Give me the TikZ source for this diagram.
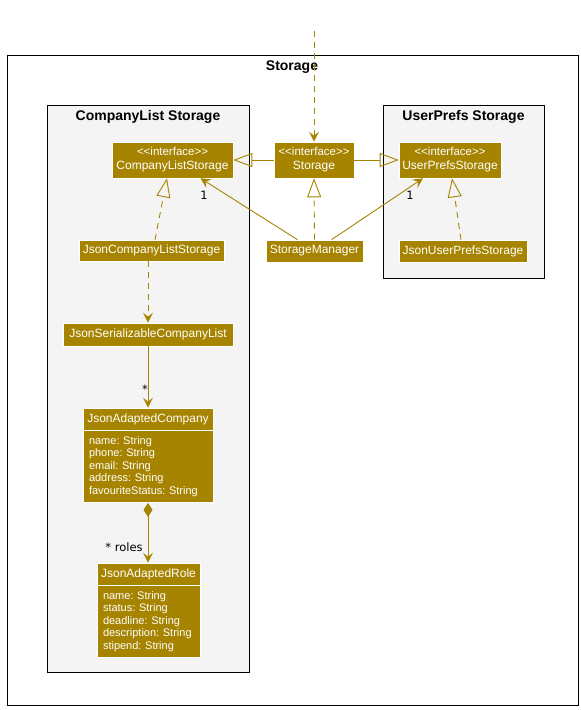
\documentclass[tikz,border=0pt]{standalone}
\usepackage{fontspec}
\setmainfont{Liberation Sans}
\newfontfamily\lblfont{DejaVu Sans}
\usetikzlibrary{arrows.meta}
\definecolor{gold}{RGB}{166,132,0}
\definecolor{pkggray}{RGB}{243,244,243}
\newcommand{\stereo}{{\fontsize{11.5}{14}\selectfont<\kern0pt<interface>\kern0pt>}}
\frenchspacing
\begin{document}
\frenchspacing
\begin{tikzpicture}[x=1pt,y=-1pt,
  frame/.style={draw=black, line width=1pt, inner sep=0pt},
  pkgbox/.style={draw=black, line width=1pt, fill=pkggray, inner sep=0pt},
  ptitle/.style={font=\bfseries\fontsize{14}{16}\selectfont, inner sep=0pt},
  cls/.style={draw=white, line width=0.6pt, fill=gold, text=white, inner sep=0pt, align=center, font=\fontsize{12}{14}\selectfont},
  attrs/.style={draw=white, line width=0.6pt, fill=gold, text=white, inner ysep=0pt, inner xsep=6pt, align=left, font=\fontsize{11}{12.5}\selectfont, anchor=north},
  link/.style={draw=gold, line width=0.9pt},
  dlink/.style={link, dash pattern=on 6pt off 5pt},
  arr/.style={-{Stealth[length=10pt,width=10pt,inset=4pt]}},
  ext/.style={-{Triangle[open,length=19pt,width=14pt]}},
  lbl/.style={font=\lblfont\fontsize{11.5}{13}\selectfont, inner sep=0pt}
]
\useasboundingbox (0,0) rectangle (581,710);
\fill[white] (0,0) rectangle (581,710);

% frames
\node[frame, minimum width=571pt, minimum height=650pt] (outer) at (292.5,380) {};
\node[ptitle] (outerT) at (292,67) {Storage};
\node[pkgbox, minimum width=202pt, minimum height=567pt] (clpkg) at (148,388.5) {};
\node[ptitle] (clpkgT) at (148,117) {CompanyList Storage};
\node[pkgbox, minimum width=161pt, minimum height=173pt] (uppkg) at (463.5,191.5) {};
\node[ptitle] (uppkgT) at (463.5,117) {UserPrefs Storage};

% classes
\node[cls, minimum width=121pt, minimum height=36pt] (cls) at (172.5,160) {\stereo\\CompanyListStorage};
\node[cls, minimum width=80pt, minimum height=36pt] (st) at (314,160) {\stereo\\Storage};
\node[cls, minimum width=102pt, minimum height=36pt] (ups) at (450,160) {\stereo\\UserPrefsStorage};
\node[cls, minimum width=145pt, minimum height=21pt] (jcls) at (151.5,250.5) {JsonCompanyListStorage};
\node[cls, minimum width=97pt, minimum height=22pt] (sm) at (314.5,251) {StorageManager};
\node[cls, minimum width=128pt, minimum height=22pt] (jups) at (463,251) {JsonUserPrefsStorage};
\node[cls, minimum width=170pt, minimum height=23pt] (jscl) at (148,334.5) {JsonSerializableCompanyList};
\node[cls, minimum width=130pt, minimum height=22pt] (jac) at (148,419) {JsonAdaptedCompany};
\node[attrs, text width=118pt, minimum height=72pt] (jacA) at (jac.south) {name: String\\phone: String\\email: String\\address: String\\favouriteStatus: String};
\node[cls, minimum width=103pt, minimum height=22pt] (jar) at (148.5,574) {JsonAdaptedRole};
\node[attrs, text width=91pt, minimum height=72pt] (jarA) at (jar.south) {name: String\\status: String\\deadline: String\\description: String\\stipend: String};

% connectors
\coordinate (topin) at (314,31);
\draw[dlink, arr] (topin) -- (st.north);
\draw[link, ext] (st.west) -- (cls.east);
\draw[link, ext] (st.east) -- (ups.west);
\draw[dlink, ext] (sm.north) -- (st.south);
\draw[link, arr] ([xshift=-17pt]sm.north) -- ([xshift=28pt]cls.south);
\draw[link, arr] ([xshift=17pt]sm.north) -- ([xshift=-27pt]ups.south);
\node[lbl] (one1) at (204,195) {1};
\node[lbl] (one2) at (410,195) {1};
\draw[dlink, ext] ([xshift=3.5pt]jcls.north) -- ([xshift=-5.5pt]cls.south);
\draw[dlink, ext] ([xshift=-2pt]jups.north) -- ([xshift=2pt]ups.south);
\draw[dlink, arr] ([xshift=-3.5pt]jcls.south) -- (jscl.north);
\draw[link, arr] (jscl.south) -- (jac.north);
\node[lbl] (star) at (145,389) {*};
\draw[link, {Diamond[length=14pt,width=9pt]}-{Stealth[length=10pt,width=10pt,inset=4pt]}] (jacA.south) -- ([xshift=-0.5pt]jar.north);
\node[lbl] (roles) at (124,547) {* roles};
\end{tikzpicture}
\end{document}
